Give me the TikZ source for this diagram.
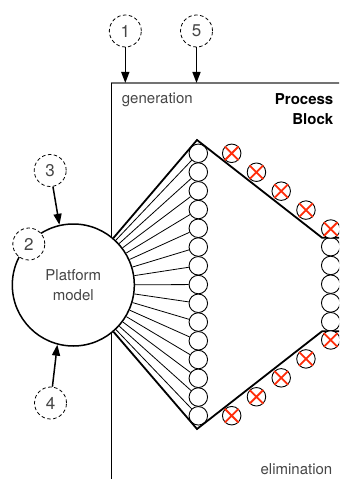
\documentclass[tikz,border=0pt]{standalone}
\usepackage{fontspec}
\setmainfont{TeX Gyre Heros}
\usetikzlibrary{arrows.meta}
\definecolor{txt}{RGB}{70,70,70}
\definecolor{xred}{RGB}{255,45,10}
\definecolor{framegray}{RGB}{115,115,115}
\begin{document}
\begin{tikzpicture}[x=1bp,y=-1bp,
  lbl/.style={font=\fontsize{15bp}{20bp}\selectfont, text=txt, inner sep=0},
  num/.style={circle, draw, dash pattern=on 3.5bp off 2.5bp, minimum size=32bp, inner sep=0, fill=white,
    font=\fontsize{17bp}{17bp}\selectfont, text=txt, line width=0.8bp},
  ball/.style={circle, draw, minimum size=18.5bp, inner sep=0, line width=0.9bp, fill=white},
  xmark/.style={draw=xred, line width=1.8bp},
  edge/.style={line width=1.8bp},
  fan/.style={line width=0.8bp},
  arr/.style={line width=1.5bp, -{Triangle[length=11bp,width=8bp]}}
]
\useasboundingbox (0,0) rectangle (339,479);
\clip (0,0) rectangle (339,479);

% frame
\coordinate (fTL) at (111.5,83);
\coordinate (fTR) at (345,83);
\coordinate (fBL) at (111.5,485);
\draw[line width=1.5bp, framegray] (110.7,83) -- (fTR);
\draw[line width=0.9bp] (fTL) -- (fBL);

% texts in frame
\node[lbl, anchor=base west] (gen) at (121.7,103.3) {generation};
\node[lbl, text=black, font=\fontsize{15bp}{20bp}\selectfont\bfseries, align=right, anchor=north east] (pb) at (333.5,93.3) {Process\\Block};
\node[lbl, anchor=base east] (elim) at (332.5,474) {elimination};

% platform model
\node[circle, draw, line width=1.5bp, fill=white, minimum size=122bp, inner sep=0,
  font=\fontsize{15bp}{20bp}\selectfont, text=txt, align=center] (big) at (73.3,285) {Platform\\model};

% left column
\foreach \i in {1,...,15} {
  \node[ball] (L\i) at (198.3,{153.3+(\i-1)*18.75}) {};
}
\foreach \i in {1,...,15} {
  \draw[fan] (big) -- (L\i);
}

% right column
\foreach \i in {1,...,5} {
  \node[ball] (R\i) at (330.7,{246.7+(\i-1)*18.75}) {};
}

% polygon edges
\coordinate (apT) at (197,140);
\coordinate (apB) at (197,429);
\coordinate (rT) at (322,237.7);
\coordinate (rB) at (322,331.3);
\coordinate (rTe) at (345,237.7);
\coordinate (rBe) at (345,331.3);
\draw[edge, line join=miter] (big) -- (apT) -- (rT) -- (rTe);
\draw[edge, line join=miter] (big) -- (apB) -- (rB) -- (rBe);

% eliminated balls
\foreach \i in {1,...,5} {
  \node[ball] (U\i) at ({231.7+(\i-1)*24.75},{153.3+(\i-1)*18.93}) {};
  \draw[xmark] (U\i.north west) -- (U\i.south east) (U\i.north east) -- (U\i.south west);
  \node[ball] (D\i) at ({231.7+(\i-1)*24.75},{415.7-(\i-1)*18.93}) {};
  \draw[xmark] (D\i.north west) -- (D\i.south east) (D\i.north east) -- (D\i.south west);
}

% numbered markers
\node[num] (n1) at (125.3,31) {1};
\node[num] (n5) at (196.5,31) {5};
\node[num] (n3) at (50.2,170.5) {3};
\node[num] (n2) at (28.8,244) {2};
\node[num] (n4) at (50.5,403) {4};

\coordinate (a1) at (125.3,83);
\coordinate (a5) at (196.5,83);
\draw[arr] (n1) -- (a1);
\draw[arr] (n5) -- (a5);
\draw[arr] (n3) -- (big.103);
\draw[arr] (n4) -- (big.255);
\end{tikzpicture}
\end{document}
